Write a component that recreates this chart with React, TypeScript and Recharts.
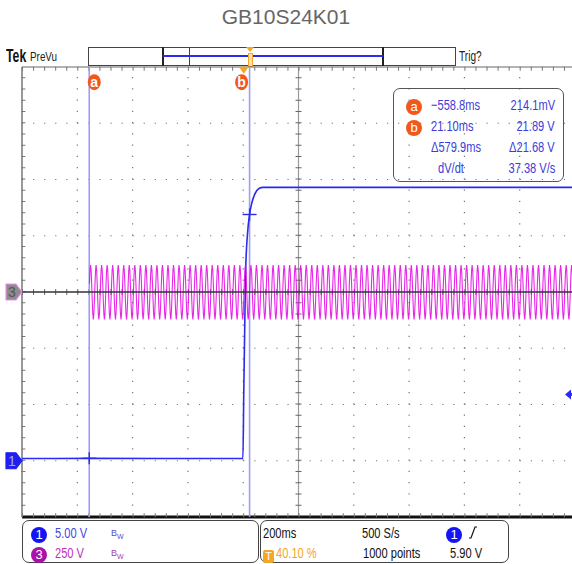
import { LineChart, Line, XAxis, YAxis, ReferenceLine, ReferenceDot } from 'recharts';

// time base: 200 ms/div, 10 div, trigger at 40.10 % of the record
const X_MIN = -802;
const X_MAX = 1198;
const MS_PER_DIV = 200;

// ch1 (5 V/div, ground 3 div below centre)
const CH1_T_MS = [-802, -560, -3, 0, 3, 7, 14, 21.1, 30, 40, 55, 70, 1198];
const CH1_V = [0.2, 0.21, 0.2, 5.9, 11, 17, 20.3, 21.89, 23, 23.7, 24.2, 24.3, 24.3];

// ch3 (250 V/div, ground at centre) – one mains cycle as the scope draws it, 500 S/s
const CH3_START_MS = -558;
const CH3_SAMPLE_MS = 2;
const CH3_CYCLE_V = [37, 97, 120, 97, 37, -37, -97, -122, -97, -37];

// cursors, trigger
const CURSOR_A_MS = -558.8;
const CURSOR_A_V = 0.2141;
const CURSOR_B_MS = 21.1;
const CURSOR_B_V = 21.89;
const TRIG_LEVEL_V = 5.9;

const READOUT = [
  { tag: 'a', t: '\u2212558.8ms', v: '214.1mV' },
  { tag: 'b', t: '21.10ms', v: '21.89 V' },
  { tag: '', t: '\u0394579.9ms', v: '\u039421.68 V' },
  { tag: '', t: 'dV/dt', v: '37.38 V/s' },
];

const ch1Data = CH1_T_MS.map((t, i) => ({ t, v: CH1_V[i] }));
const ch3Data: { t: number; v: number }[] = [];
for (let i = 0; CH3_START_MS + i * CH3_SAMPLE_MS <= X_MAX; i++) {
  ch3Data.push({ t: CH3_START_MS + i * CH3_SAMPLE_MS, v: CH3_CYCLE_V[i % CH3_CYCLE_V.length] });
}

const SANS = "'Liberation Sans',Arial,sans-serif";
const BLUE = '#2a2af0';
const TXT_BLUE = '#3c3cdc';
const ORANGE = '#f2571b';
const MAGENTA = '#e400e4';

const xDivs = Array.from({ length: 11 }, (_, k) => X_MIN + k * MS_PER_DIV);
const yDivs = [-4, -3, -2, -1, 0, 1, 2, 3, 4];

const cursorTag = (letter: string, dx: number) => (p: any) => (
  <g>
    <ellipse cx={p.cx + dx} cy={p.cy} rx={6.5} ry={8} fill={ORANGE} />
    <text x={p.cx + dx} y={p.cy + 4.5} textAnchor="middle" fill="#fff" fontSize={14} fontWeight="bold"
      fontFamily={SANS}>{letter}</text>
  </g>
);

const trigMark = (p: any) => (
  <path d={`M${p.cx - 5},${p.cy - 3} L${p.cx + 5},${p.cy - 3} L${p.cx},${p.cy + 4} Z`} fill="#f5a623" />
);

const cross = (p: any) => (
  <g stroke={BLUE} strokeWidth={1.4}>
    <line x1={p.cx - 7} y1={p.cy} x2={p.cx + 7} y2={p.cy} />
    <line x1={p.cx} y1={p.cy - 6} x2={p.cx} y2={p.cy + 6} />
  </g>
);

const chMarker = (num: string, fill: string, stroke: string, color: string) => (p: any) => (
  <g>
    <path d={`M${p.cx - 16},${p.cy - 8} L${p.cx - 6},${p.cy - 8} L${p.cx},${p.cy} L${p.cx - 6},${p.cy + 8} L${p.cx - 16},${p.cy + 8} Z`}
      fill={fill} stroke={stroke} strokeWidth={1.2} strokeLinejoin="round" />
    <text x={p.cx - 10} y={p.cy + 5} textAnchor="middle" fill={color} fontSize={14} fontFamily={SANS}>{num}</text>
  </g>
);

const trigArrow = (p: any) => (
  <g fill={BLUE}>
    <path d={`M${p.cx - 10},${p.cy} L${p.cx - 4},${p.cy - 5} L${p.cx - 4},${p.cy + 5} Z`} />
    <rect x={p.cx - 5} y={p.cy - 1.5} width={6} height={3} />
  </g>
);

// the scope font is a narrow one; squeeze the installed sans
function N({ children, s = 0.76, origin = 'left' }: any) {
  return (
    <span style={{ display: 'inline-block', transform: `scaleX(${s})`, transformOrigin: origin }}>{children}</span>
  );
}

function Circle({ n, bg, size = 16 }: { n: string; bg: string; size?: number }) {
  return (
    <span style={{
      display: 'inline-block', width: size, height: size, borderRadius: '50%', background: bg, color: '#fff',
      fontSize: 13, lineHeight: `${size}px`, textAlign: 'center', fontFamily: SANS,
    }}>{n}</span>
  );
}

function Abs({ x, y, children, style }: any) {
  return <div style={{ position: 'absolute', left: x, top: y, whiteSpace: 'nowrap', ...style }}>{children}</div>;
}

function Bw({ color }: { color: string }) {
  return (
    <span style={{ color, fontSize: 9 }}>B<sub style={{ fontSize: 7 }}>W</sub></span>
  );
}

export default function App() {
  return (
    <div style={{
      position: 'absolute', left: 0, top: 0, width: 572, height: 564, overflow: 'hidden',
      background: '#fff', fontFamily: SANS, fontSize: 15,
    }}>
      <Abs x={0} y={5} style={{ width: 572, textAlign: 'center', fontSize: 21, color: '#666' }}>
        GB10S24K01
      </Abs>

      {/* header strip */}
      <Abs x={6} y={46} style={{ fontWeight: 'bold', fontSize: 18, color: '#111' }}><N s={0.68}>Tek</N></Abs>
      <Abs x={30} y={49} style={{ fontSize: 13, color: '#222' }}><N s={0.76}>PreVu</N></Abs>
      <div style={{ position: 'absolute', left: 88, top: 47, width: 368, height: 19, border: '1px solid #444', boxSizing: 'border-box' }} />
      <div style={{ position: 'absolute', left: 162, top: 47, width: 2, height: 19, background: '#222' }} />
      <div style={{ position: 'absolute', left: 382, top: 47, width: 2, height: 19, background: '#222' }} />
      <div style={{ position: 'absolute', left: 163, top: 55, width: 220, height: 1.5, background: BLUE }} />
      <div style={{ position: 'absolute', left: 189, top: 47, width: 1, height: 19, background: BLUE }} />
      <div style={{ position: 'absolute', left: 248, top: 53, width: 3, height: 12, border: '1px solid #f5a623', background: '#fde2b0' }} />
      <div style={{ position: 'absolute', left: 246, top: 47, width: 0, height: 0, borderLeft: '4px solid transparent', borderRight: '4px solid transparent', borderTop: '5px solid #f5a623' }} />
      <Abs x={459} y={48} style={{ fontSize: 14, color: '#222' }}><N s={0.72}>Trig?</N></Abs>

      <LineChart width={575} height={564} margin={{ top: 67, right: 0, bottom: 47, left: 22 }}>
        <XAxis type="number" dataKey="t" domain={[X_MIN, X_MAX]} allowDataOverflow hide />
        <YAxis yAxisId="div" type="number" domain={[-4, 4]} allowDataOverflow hide />
        <YAxis yAxisId="ch1" type="number" domain={[-5, 35]} allowDataOverflow hide />
        <YAxis yAxisId="ch3" type="number" domain={[-1000, 1000]} allowDataOverflow hide />

        {/* graticule */}
        {xDivs.slice(1, 10).filter((t) => t !== X_MIN + 5 * MS_PER_DIV).map((t) => (
          <ReferenceLine key={'gx' + t} x={t} yAxisId="div" stroke="#777" strokeWidth={1.2} strokeDasharray="1.2 10.05" />
        ))}
        {yDivs.slice(1, 8).filter((d) => d !== 0).map((d) => (
          <ReferenceLine key={'gy' + d} y={d} yAxisId="div" stroke="#777" strokeWidth={1.2} strokeDasharray="1.2 9.86" />
        ))}
        <ReferenceLine x={X_MIN + 5 * MS_PER_DIV} yAxisId="div" stroke="#999" strokeWidth={1.2} />
        <ReferenceLine x={X_MIN + 5 * MS_PER_DIV} yAxisId="div" stroke="#666" strokeWidth={6} strokeDasharray="1 10.25" />
        <ReferenceLine y={0} yAxisId="div" stroke="#666" strokeWidth={6} strokeDasharray="1 10.06" />
        <ReferenceLine y={3.97} yAxisId="div" stroke="#777" strokeWidth={4} strokeDasharray="1 10.06" />
        <ReferenceLine y={4} yAxisId="div" stroke="#666" strokeWidth={1} />
        <ReferenceLine x={X_MIN} yAxisId="div" stroke="#777" strokeWidth={1.5} />
        <ReferenceLine x={X_MIN + 5} yAxisId="div" stroke="#777" strokeWidth={4} strokeDasharray="1 10.25" />
        <ReferenceLine y={-4} yAxisId="div" stroke="#111" strokeWidth={3} />
        <ReferenceLine y={-3.97} yAxisId="div" stroke="#777" strokeWidth={4} strokeDasharray="1 10.06" />

        {/* cursors */}
        <ReferenceLine x={CURSOR_A_MS} yAxisId="div" stroke="#9d9df2" strokeWidth={1.6} />
        <ReferenceLine x={CURSOR_B_MS} yAxisId="div" stroke="#9d9df2" strokeWidth={1.6} />

        <Line data={ch1Data} dataKey="v" yAxisId="ch1" type="monotone" stroke={BLUE} strokeWidth={1.6}
          dot={false} isAnimationActive={false} />
        <Line data={ch3Data} dataKey="v" yAxisId="ch3" type="linear" stroke={MAGENTA} strokeWidth={1.1}
          strokeOpacity={0.85} dot={false} isAnimationActive={false} />
        <ReferenceLine y={0} yAxisId="div" stroke="#333" strokeWidth={1.5} />

        <ReferenceDot x={CURSOR_A_MS} y={3.73} yAxisId="div" ifOverflow="visible" shape={cursorTag('a', 5)} />
        <ReferenceDot x={CURSOR_B_MS} y={3.73} yAxisId="div" ifOverflow="visible" shape={cursorTag('b', -8)} />
        <ReferenceDot x={0} y={3.95} yAxisId="div" ifOverflow="visible" shape={trigMark} />
        <ReferenceDot x={CURSOR_A_MS} y={CURSOR_A_V} yAxisId="ch1" ifOverflow="visible" shape={cross} />
        <ReferenceDot x={CURSOR_B_MS} y={CURSOR_B_V} yAxisId="ch1" ifOverflow="visible" shape={cross} />
        <ReferenceDot x={X_MIN} y={0} yAxisId="ch1" ifOverflow="visible" shape={chMarker('1', '#1f1ff0', '#1f1ff0', '#a8a8cc')} />
        <ReferenceDot x={X_MIN} y={0} yAxisId="ch3" ifOverflow="visible" shape={chMarker('3', '#8c8c8c', '#f28cf2', '#555')} />
        <ReferenceDot x={X_MAX} y={TRIG_LEVEL_V} yAxisId="ch1" ifOverflow="visible" shape={trigArrow} />
      </LineChart>

      {/* cursor readout */}
      <div style={{ position: 'absolute', left: 393, top: 88, width: 171, height: 94, border: '1px solid #555', borderRadius: 7, boxSizing: 'border-box' }} />
      {READOUT.map((r, i) => (
        <div key={i}>
          {r.tag && (
            <Abs x={406} y={97 + i * 21}><Circle n={r.tag} bg={ORANGE} size={16} /></Abs>
          )}
          <Abs x={r.t === 'dV/dt' ? 438 : 431} y={96 + i * 21} style={{ color: TXT_BLUE }}><N s={0.74}>{r.t}</N></Abs>
          <div style={{ position: 'absolute', right: 572 - 555, top: 96 + i * 21, color: TXT_BLUE, whiteSpace: 'nowrap' }}>
            <N s={0.74} origin="right">{r.v}</N>
          </div>
        </div>
      ))}

      {/* status boxes */}
      <div style={{ position: 'absolute', left: 22, top: 520, width: 237, height: 43, border: '1px solid #444', borderRadius: 7, boxSizing: 'border-box' }} />
      <div style={{ position: 'absolute', left: 260, top: 520, width: 249, height: 43, border: '1px solid #444', borderRadius: 7, boxSizing: 'border-box' }} />
      <Abs x={31} y={525}><Circle n="1" bg="#1414f5" /></Abs>
      <Abs x={55} y={524} style={{ color: '#4646e0' }}><N s={0.74}>5.00 V</N></Abs>
      <Abs x={111} y={522}><Bw color="#5050c8" /></Abs>
      <Abs x={31} y={545}><Circle n="3" bg="#aa10aa" /></Abs>
      <Abs x={55} y={544} style={{ color: '#c030c0' }}><N s={0.74}>250 V</N></Abs>
      <Abs x={111} y={542}><Bw color="#a040b0" /></Abs>

      <Abs x={263} y={524} style={{ color: '#111' }}><N s={0.74}>200ms</N></Abs>
      <Abs x={263} y={546}>
        <span style={{ display: 'inline-block', width: 11, height: 13, background: '#f5a623', color: '#fff', fontSize: 11, lineHeight: '13px', textAlign: 'center', borderRadius: 2 }}>T</span>
      </Abs>
      <Abs x={276} y={544} style={{ color: '#f5a623' }}><N s={0.74}>40.10 %</N></Abs>
      <Abs x={362} y={524} style={{ color: '#111' }}><N s={0.74}>500 S/s</N></Abs>
      <Abs x={363} y={544} style={{ color: '#111' }}><N s={0.74}>1000 points</N></Abs>
      <Abs x={446} y={525}><Circle n="1" bg="#1414f5" /></Abs>
      <Abs x={468} y={525}>
        <svg width={10} height={15}><path d="M1,13 L3,13 L7,2 L9,2" stroke="#111" strokeWidth={1.2} fill="none" /></svg>
      </Abs>
      <Abs x={450} y={544} style={{ color: '#111' }}><N s={0.74}>5.90 V</N></Abs>
    </div>
  );
}
